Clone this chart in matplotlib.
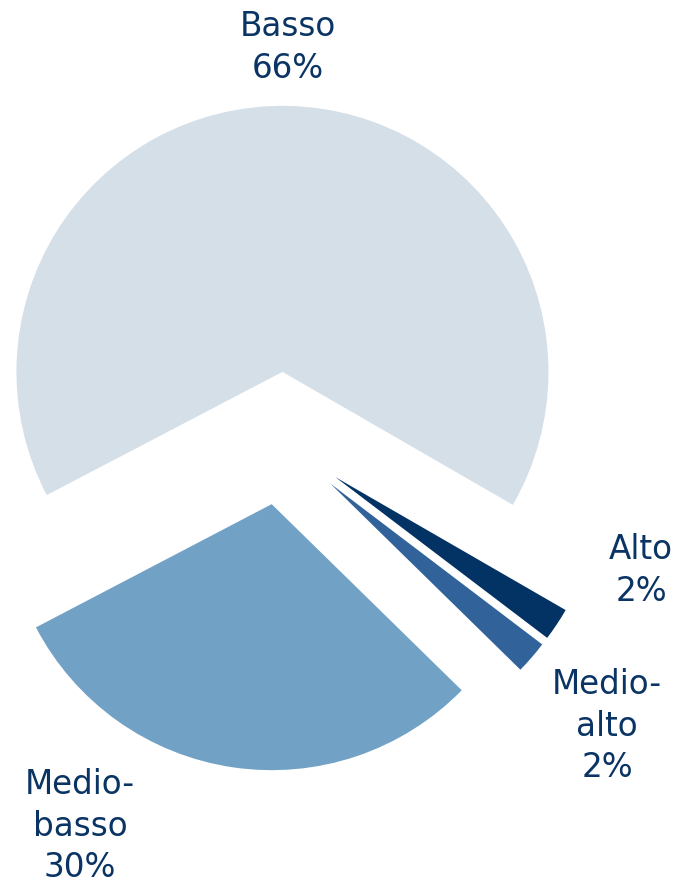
import matplotlib
matplotlib.use("Agg")
import matplotlib.pyplot as plt

# quota per livello
livelli = ["Basso", "Medio-\nbasso", "Medio-\nalto", "Alto"]
quote = [66, 30, 2, 2]
colori = ["#D5DFE8", "#71A2C6", "#31639A", "#033264"]
esplodi = [0.26, 0.24, 0.245, 0.245]

# posizione etichette in pixel (x centro, y alto)
pos_etichette = [(288, 10), (80, 768), (607, 668), (641, 533)]

W, H = 679, 883
R = 266.0       # raggio in pixel
cx, cy = 281, 441

fig = plt.figure(figsize=(W / 100, H / 100), dpi=100)
ax = fig.add_axes([0, 0, 1, 1])

ax.pie(quote, colors=colori, explode=esplodi, startangle=-30,
       counterclock=True, radius=1,
       wedgeprops=dict(linewidth=0))

ax.set_xlim(-cx / R, (W - cx) / R)
ax.set_ylim(-(H - cy) / R, cy / R)
ax.set_aspect("equal")
ax.axis("off")

for nome, q, (px, py) in zip(livelli, quote, pos_etichette):
    fig.text(px / W, 1 - py / H, f"{nome}\n{q}%", ha="center", va="top",
             fontsize=23.5, color="#0A3464", family="DejaVu Sans",
             linespacing=1.33, multialignment="center")

fig.savefig("out.png", dpi=100)
